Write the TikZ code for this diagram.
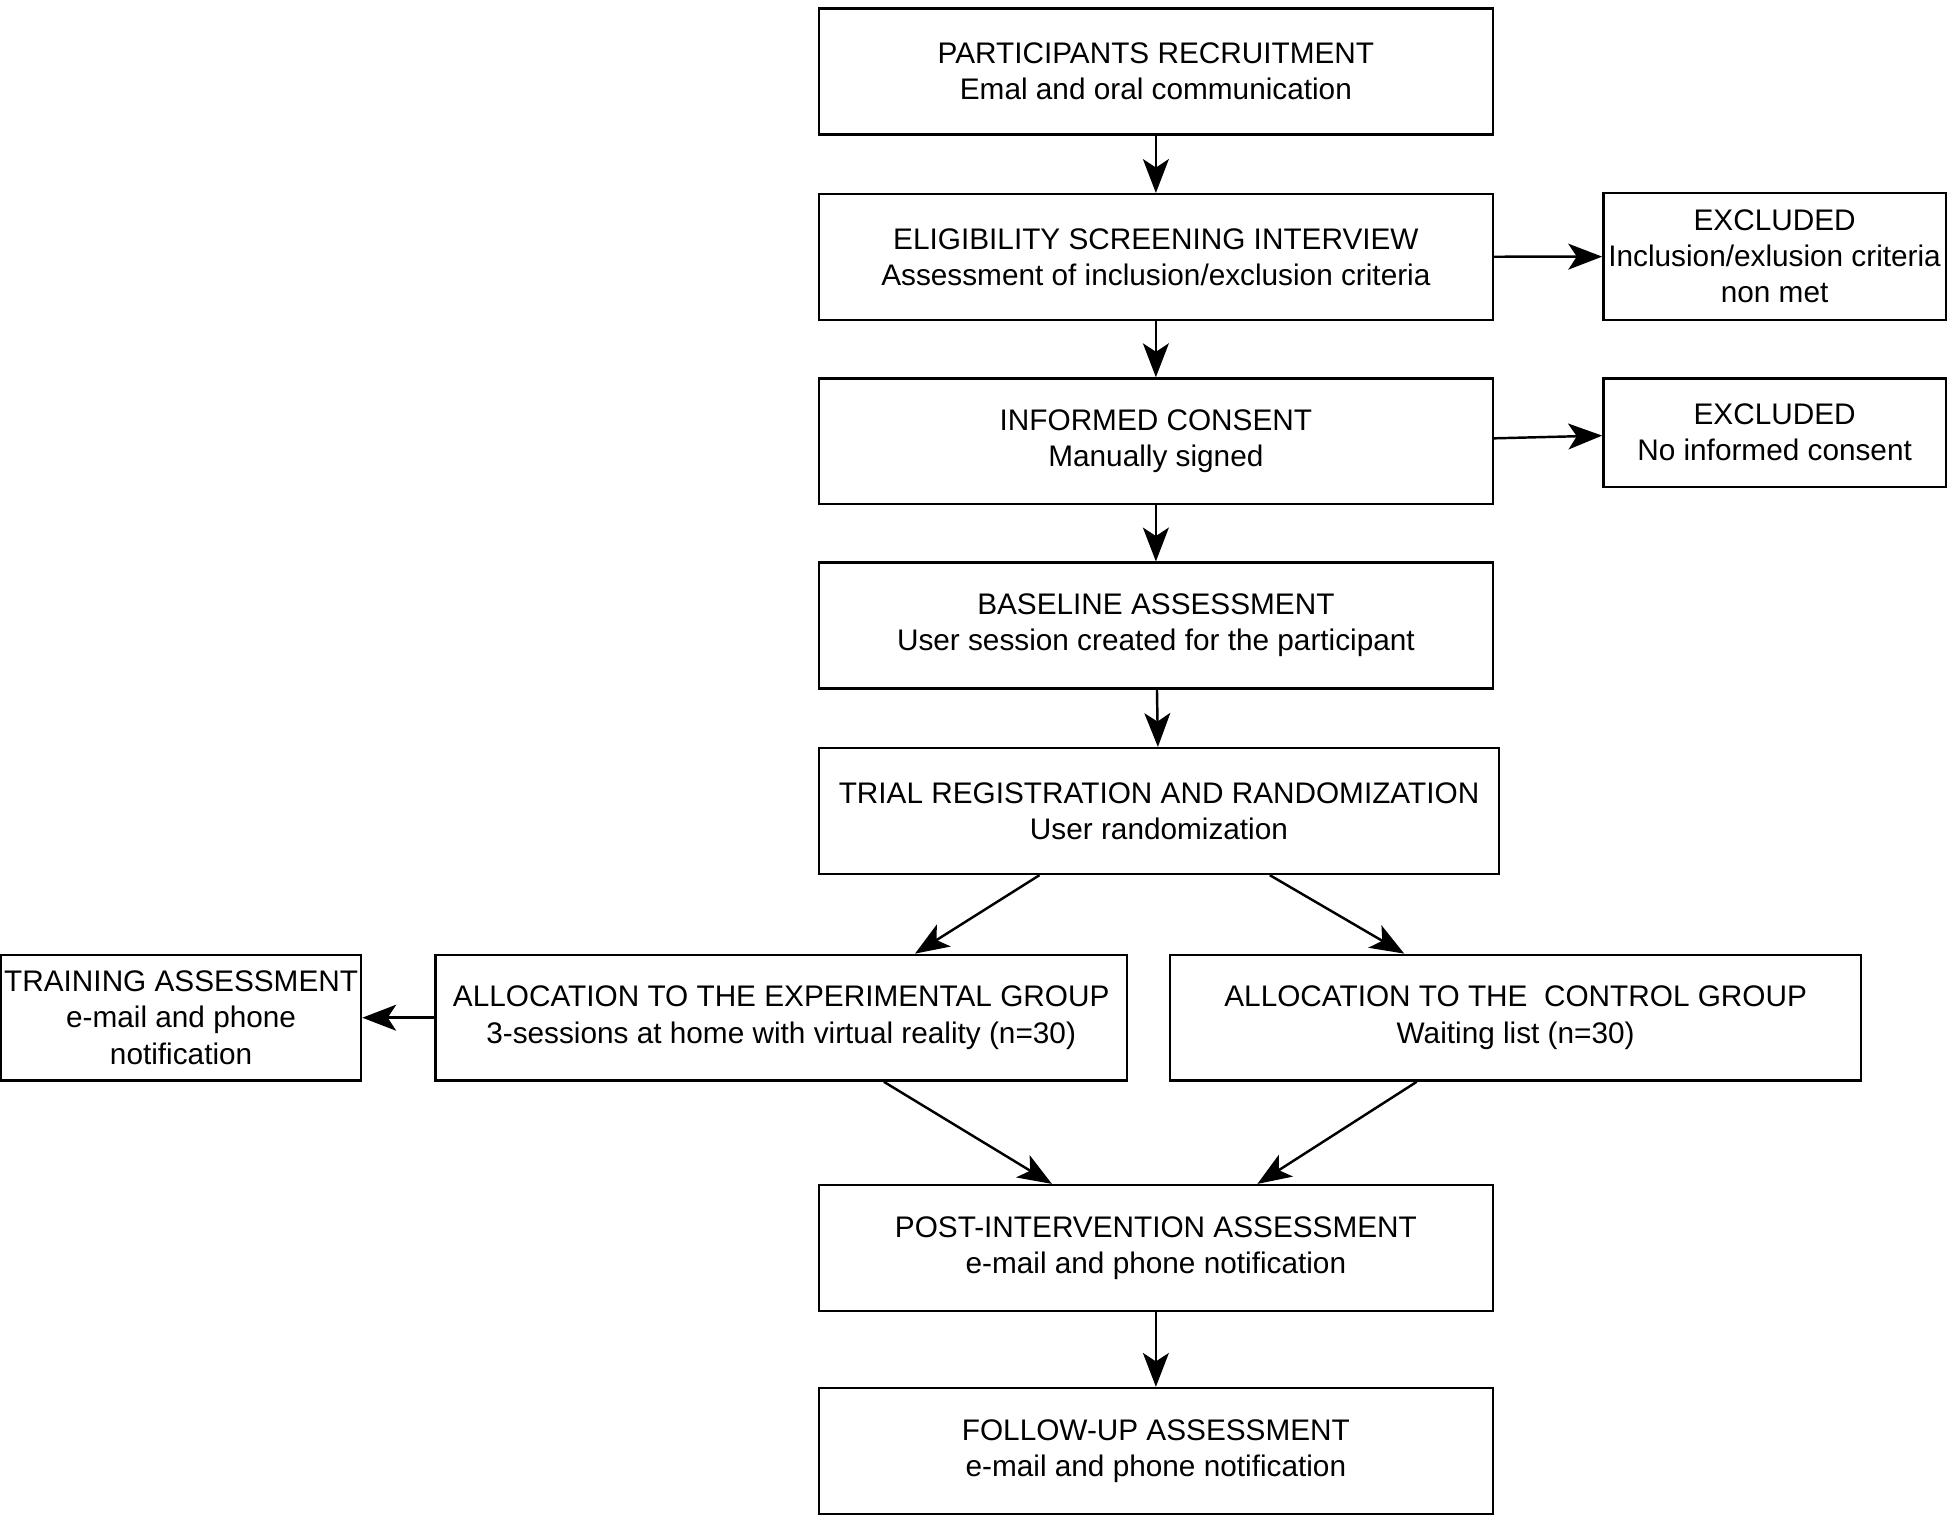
\documentclass[tikz,border=0pt]{standalone}
\usepackage{fontspec}
\setmainfont{Liberation Sans}
\usetikzlibrary{arrows.meta}

\begin{document}
\begin{tikzpicture}[
      x=0.025cm, y=0.025cm,
      every node/.style={draw, line width=1.4pt, inner sep=0pt, align=center,
        font=\fontsize{17}{20.6}\selectfont},
      mainbox/.style={minimum width=13.525cm, minimum height=2.525cm},
      sidebox/.style={minimum width=6.875cm},
      groupbox/.style={minimum width=13.875cm, minimum height=2.525cm},
      link/.style={line width=1.4pt, -{Stealth[length=0.68cm, width=0.52cm, inset=0.17cm]}}
    ]
    \useasboundingbox (0,0) rectangle (1568,-1218);
    \node[mainbox] (recruit) at (928.5,-57.5)
      {PARTICIPANTS RECRUITMENT\\Emal and oral communication};
    \node[mainbox] (screen) at (928.5,-206.5)
      {ELIGIBILITY SCREENING INTERVIEW\\Assessment of inclusion/exclusion criteria};
    \node[sidebox, minimum height=2.55cm] (excl1) at (1425.5,-206)
      {EXCLUDED\\Inclusion/exlusion criteria\\non met};
    \node[mainbox] (consent) at (928.5,-354.5)
      {INFORMED CONSENT\\Manually signed};
    \node[sidebox, minimum height=2.175cm] (excl2) at (1425.5,-347.5)
      {EXCLUDED\\No informed consent};
    \node[mainbox] (baseline) at (928.5,-502.5)
      {BASELINE ASSESSMENT\\User session created for the participant};
    \node[mainbox, minimum width=13.65cm] (random) at (931,-651.5)
      {TRIAL REGISTRATION AND RANDOMIZATION\\User randomization};
    \node[groupbox] (expgroup) at (627.5,-817.5)
      {ALLOCATION TO THE EXPERIMENTAL GROUP\\3-sessions at home with virtual reality (n=30)};
    \node[groupbox] (ctrlgroup) at (1217.5,-817.5)
      {ALLOCATION TO THE\ \ CONTROL GROUP\\Waiting list (n=30)};
    \node[minimum width=7.225cm, minimum height=2.525cm] (training) at (145.5,-817.5)
      {TRAINING ASSESSMENT\\e-mail and phone\\notification};
    \node[mainbox] (post) at (928.5,-1002.5)
      {POST-INTERVENTION ASSESSMENT\\e-mail and phone notification};
    \node[mainbox] (follow) at (928.5,-1165.5)
      {FOLLOW-UP ASSESSMENT\\e-mail and phone notification};

    % main line
    \draw[link] (recruit) -- (screen);
    \draw[link] (screen) -- (consent);
    \draw[link] (consent) -- (baseline);
    \draw[link] (baseline) -- (random);
    \draw[link] (post) -- (follow);
    % exclusions
    \draw[link] (screen) -- (excl1);
    \draw[link] ([yshift=0.06cm]consent.east) -- ([yshift=-0.06cm]excl2.west);
    % groups
    \draw[link] ([xshift=-2.4cm]random.south) -- ([xshift=2.6875cm]expgroup.north);
    \draw[link] ([xshift=2.225cm]random.south) -- ([xshift=-2.2375cm]ctrlgroup.north);
    \draw[link] (expgroup) -- (training);
    \draw[link] ([xshift=2.0625cm]expgroup.south) -- ([xshift=-2.0875cm]post.north);
    \draw[link] ([xshift=-1.9875cm]ctrlgroup.south) -- ([xshift=2.0375cm]post.north);
\end{tikzpicture}
\end{document}
